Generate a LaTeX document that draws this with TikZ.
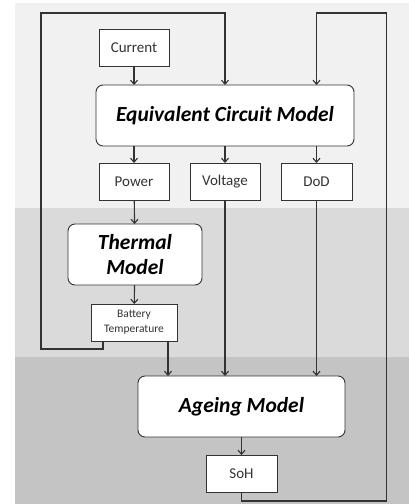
\documentclass[tikz,border=0pt]{standalone}
\usepackage{fontspec}
\setmainfont{Carlito}
\usetikzlibrary{arrows.meta}
\definecolor{bgtop}{HTML}{F1F1F1}
\definecolor{bgmid}{HTML}{DADADA}
\definecolor{bgbot}{HTML}{C4C4C4}
\definecolor{ln}{HTML}{333333}
\begin{document}
\begin{tikzpicture}[x=1pt,y=-1pt,
  every node/.style={inner sep=0pt, outer sep=0pt},
  smallbox/.style={draw=ln, fill=white, line width=0.9pt, minimum width=70pt, minimum height=37pt, font=\fontsize{15}{17}\selectfont, text=black!80},
  modelbox/.style={draw=ln, fill=white, line width=0.9pt, rounded corners=7pt, minimum height=61pt, font=\fontsize{21.5}{24}\selectfont\bfseries\itshape, align=center},
  conn/.style={draw=ln, line width=1.1pt},
  arr/.style={conn, -{Straight Barb[length=4pt,width=7pt,line width=1.1pt]}}
]
\useasboundingbox (0,0) rectangle (409,504);
\fill[white] (0,0) rectangle (409,504);
\fill[bgtop] (15,3) rectangle (409,208);
\fill[bgmid] (15,208) rectangle (409,357);
\fill[bgbot] (15,357) rectangle (409,504);

\node[smallbox] (cur) at (134,47.5) {Current};
\node[modelbox, minimum width=258pt] (ecm) at (225,115.5) {Equivalent Circuit Model};
\node[smallbox] (pow) at (134,181.5) {Power};
\node[smallbox] (vol) at (225,181.5) {Voltage};
\node[smallbox, minimum width=71pt] (dod) at (316.5,181.5) {DoD};
\node[modelbox, minimum width=134pt, font=\fontsize{21.5}{25}\selectfont\bfseries\itshape] (thm) at (135,254.5) {Thermal\\Model};
\node[smallbox, minimum width=86pt, font=\fontsize{11.5}{15}\selectfont, align=center] (bt) at (134,322.5) {Battery\\Temperature};
\node[modelbox, minimum width=207pt] (age) at (241.5,406.5) {Ageing Model};
\node[smallbox, minimum width=71pt] (soh) at (241.5,473.5) {SoH};

\draw[arr] (cur) -- (cur |- ecm.north);
\draw[arr] (ecm.south -| pow) -- (pow);
\draw[arr] (ecm.south -| vol) -- (vol);
\draw[arr] (ecm.south -| dod) -- (dod);
\draw[arr] (pow) -- (thm);
\draw[arr] (thm) -- (bt);
\draw[arr] (bt.south -| 168,0) -- (age.north -| 168,0);
\draw[arr] (vol) -- (vol |- age.north);
\draw[arr] (dod) -- (dod |- age.north);
\draw[arr] (age) -- (soh);

\coordinate (l1) at (103,349);
\coordinate (l2) at (41,349);
\coordinate (l3) at (41,13);
\coordinate (l4) at (225,13);
\draw[arr] (bt.south -| l1) -- (l1) -- (l2) -- (l3) -- (l4) -- (ecm.north);

\coordinate (r1) at (241.5,501);
\coordinate (r2) at (386.5,501);
\coordinate (r3) at (386.5,13);
\coordinate (r4) at (316.5,13);
\draw[arr] (soh.south) -- (r1) -- (r2) -- (r3) -- (r4) -- (ecm.north -| r4);
\end{tikzpicture}
\end{document}
